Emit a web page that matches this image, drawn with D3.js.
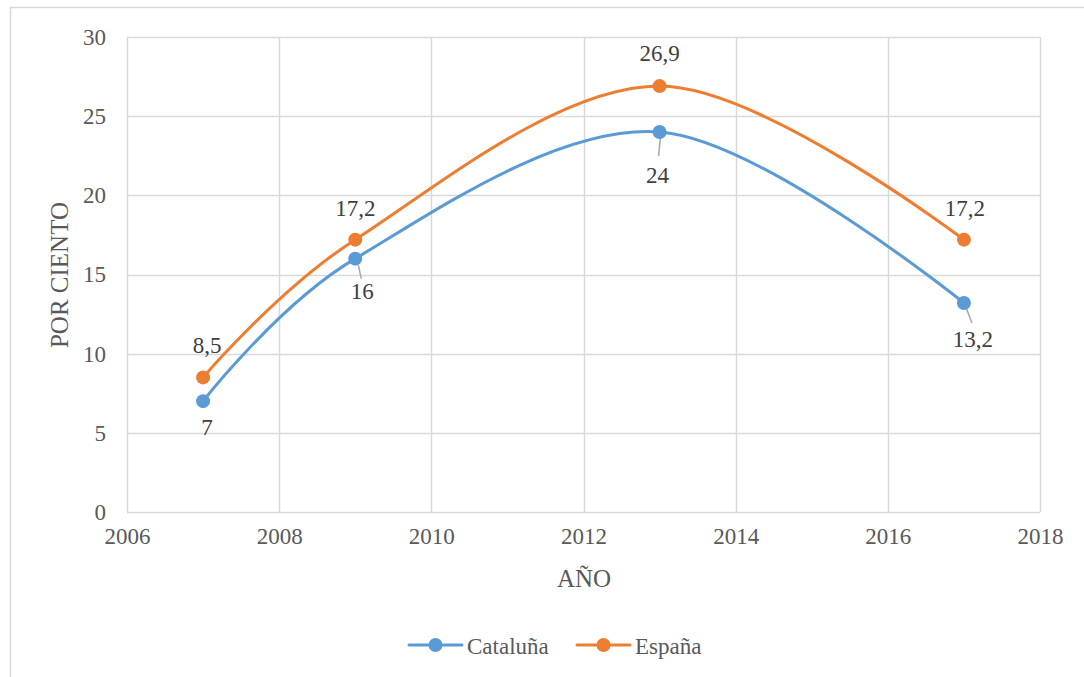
<!DOCTYPE html>
<html>
<head>
<meta charset="utf-8">
<script src="https://cdn.jsdelivr.net/npm/d3@7"></script>
<style>
  body { margin: 0; background: #fff; }
</style>
</head>
<body>
<div id="chart"></div>
<script>
// data
var years = [2007, 2009, 2013, 2017];
var cataluna = [7, 16, 24, 13.2];
var espana = [8.5, 17.2, 26.9, 17.2];
var seriesNames = ["Cataluña", "España"];
var xTicks = [2006, 2008, 2010, 2012, 2014, 2016, 2018];
var yTicks = [0, 5, 10, 15, 20, 25, 30];

var width = 1084, height = 677;
var colors = ["#5B9BD5", "#ED7D31"];
var serif = "'Liberation Serif', 'Times New Roman', Tinos, 'DejaVu Serif', serif";

var svg = d3.select("#chart").append("svg")
    .attr("width", width)
    .attr("height", height)
    .style("font-family", serif);

// outer chart frame (runs off the right / bottom edge)
svg.append("rect")
    .attr("x", 10.5).attr("y", 7.5)
    .attr("width", 1100).attr("height", 700)
    .attr("fill", "#fff")
    .attr("stroke", "#d9d9d9")
    .attr("stroke-width", 1.5);

var x = d3.scaleLinear().domain([2006, 2018]).range([127, 1040]);
var y = d3.scaleLinear().domain([0, 30]).range([512, 37]);

// gridlines
svg.append("g").selectAll("line.h")
    .data(yTicks)
    .enter().append("line")
    .attr("x1", x(2006)).attr("x2", x(2018))
    .attr("y1", function (d) { return Math.round(y(d)) + 0.5; })
    .attr("y2", function (d) { return Math.round(y(d)) + 0.5; })
    .attr("stroke", "#d9d9d9")
    .attr("stroke-width", 1.5);

svg.append("g").selectAll("line.v")
    .data(xTicks)
    .enter().append("line")
    .attr("y1", y(0)).attr("y2", y(30))
    .attr("x1", function (d) { return Math.round(x(d)) + 0.5; })
    .attr("x2", function (d) { return Math.round(x(d)) + 0.5; })
    .attr("stroke", "#d9d9d9")
    .attr("stroke-width", 1.5);

// axes (labels only, lines drawn as grid)
var yAxis = svg.append("g")
    .attr("transform", "translate(" + (x(2006) - 21) + ",0)")
    .call(d3.axisLeft(y).tickValues(yTicks).tickSize(0).tickPadding(0));
var xAxis = svg.append("g")
    .attr("transform", "translate(0," + (y(0) + 16) + ")")
    .call(d3.axisBottom(x).tickValues(xTicks).tickSize(0).tickPadding(0).tickFormat(d3.format("d")));
[yAxis, xAxis].forEach(function (a) {
    a.attr("font-family", null).attr("font-size", null);
    a.select(".domain").remove();
    a.selectAll("text")
        .style("font-family", serif)
        .style("font-size", "23px")
        .attr("fill", "#595959");
});

// axis titles
svg.append("text")
    .attr("transform", "translate(68,275) rotate(-90)")
    .attr("text-anchor", "middle")
    .style("font-size", "25px")
    .attr("fill", "#595959")
    .text("POR CIENTO");
svg.append("text")
    .attr("x", 584).attr("y", 587)
    .attr("text-anchor", "middle")
    .style("font-size", "25px")
    .attr("fill", "#595959")
    .text("AÑO");

var allSeries = [cataluna, espana];

// Excel-style smoothing (uniform Catmull-Rom)
var line = d3.line()
    .x(function (d, i) { return x(years[i]); })
    .y(function (d) { return y(d); })
    .curve(d3.curveCardinal.tension(0));

allSeries.forEach(function (vals, s) {
    svg.append("path")
        .datum(vals)
        .attr("d", line)
        .attr("fill", "none")
        .attr("stroke", colors[s])
        .attr("stroke-width", 3)
        .attr("stroke-linecap", "round");
});

// leader lines for the Cataluña labels that sit a bit away
var leaders = [null, [3, 6, 6, 20], [1, 4, -1, 24], [2, 4, 8, 20]];
leaders.forEach(function (l, i) {
    if (!l) return;
    var px = x(years[i]), py = y(cataluna[i]);
    svg.append("line")
        .attr("x1", px + l[0]).attr("y1", py + l[1])
        .attr("x2", px + l[2]).attr("y2", py + l[3])
        .attr("stroke", "#a6a6a6")
        .attr("stroke-width", 1.5);
});

allSeries.forEach(function (vals, s) {
    svg.append("g").selectAll("circle")
        .data(vals)
        .enter().append("circle")
        .attr("cx", function (d, i) { return x(years[i]); })
        .attr("cy", function (d) { return y(d); })
        .attr("r", 7)
        .attr("fill", colors[s]);
});

// data labels: Cataluña below, España above
var catOffsets = [[4, 34], [7, 40], [-2, 51], [9, 44]];
var espOffsets = [[4, -24], [0, -24], [0, -25], [1, -24]];
var fmt = function (v) { return String(v).replace(".", ","); };

svg.append("g").selectAll("text")
    .data(cataluna)
    .enter().append("text")
    .attr("x", function (d, i) { return x(years[i]) + catOffsets[i][0]; })
    .attr("y", function (d, i) { return y(d) + catOffsets[i][1]; })
    .attr("text-anchor", "middle")
    .style("font-size", "23px")
    .attr("fill", "#404040")
    .text(fmt);

svg.append("g").selectAll("text")
    .data(espana)
    .enter().append("text")
    .attr("x", function (d, i) { return x(years[i]) + espOffsets[i][0]; })
    .attr("y", function (d, i) { return y(d) + espOffsets[i][1]; })
    .attr("text-anchor", "middle")
    .style("font-size", "23px")
    .attr("fill", "#404040")
    .text(fmt);

// legend
var legendX = [409, 577];
var legend = svg.append("g").selectAll("g")
    .data(seriesNames)
    .enter().append("g")
    .attr("transform", function (d, i) { return "translate(" + legendX[i] + ",645)"; });
legend.append("line")
    .attr("x1", 0).attr("x2", 53)
    .attr("stroke", function (d, i) { return colors[i]; })
    .attr("stroke-width", 3)
    .attr("stroke-linecap", "round");
legend.append("circle")
    .attr("cx", 26.5).attr("r", 7)
    .attr("fill", function (d, i) { return colors[i]; });
legend.append("text")
    .attr("x", 58).attr("y", 9)
    .style("font-size", "23px")
    .attr("fill", "#595959")
    .text(function (d) { return d; });
</script>
</body>
</html>
